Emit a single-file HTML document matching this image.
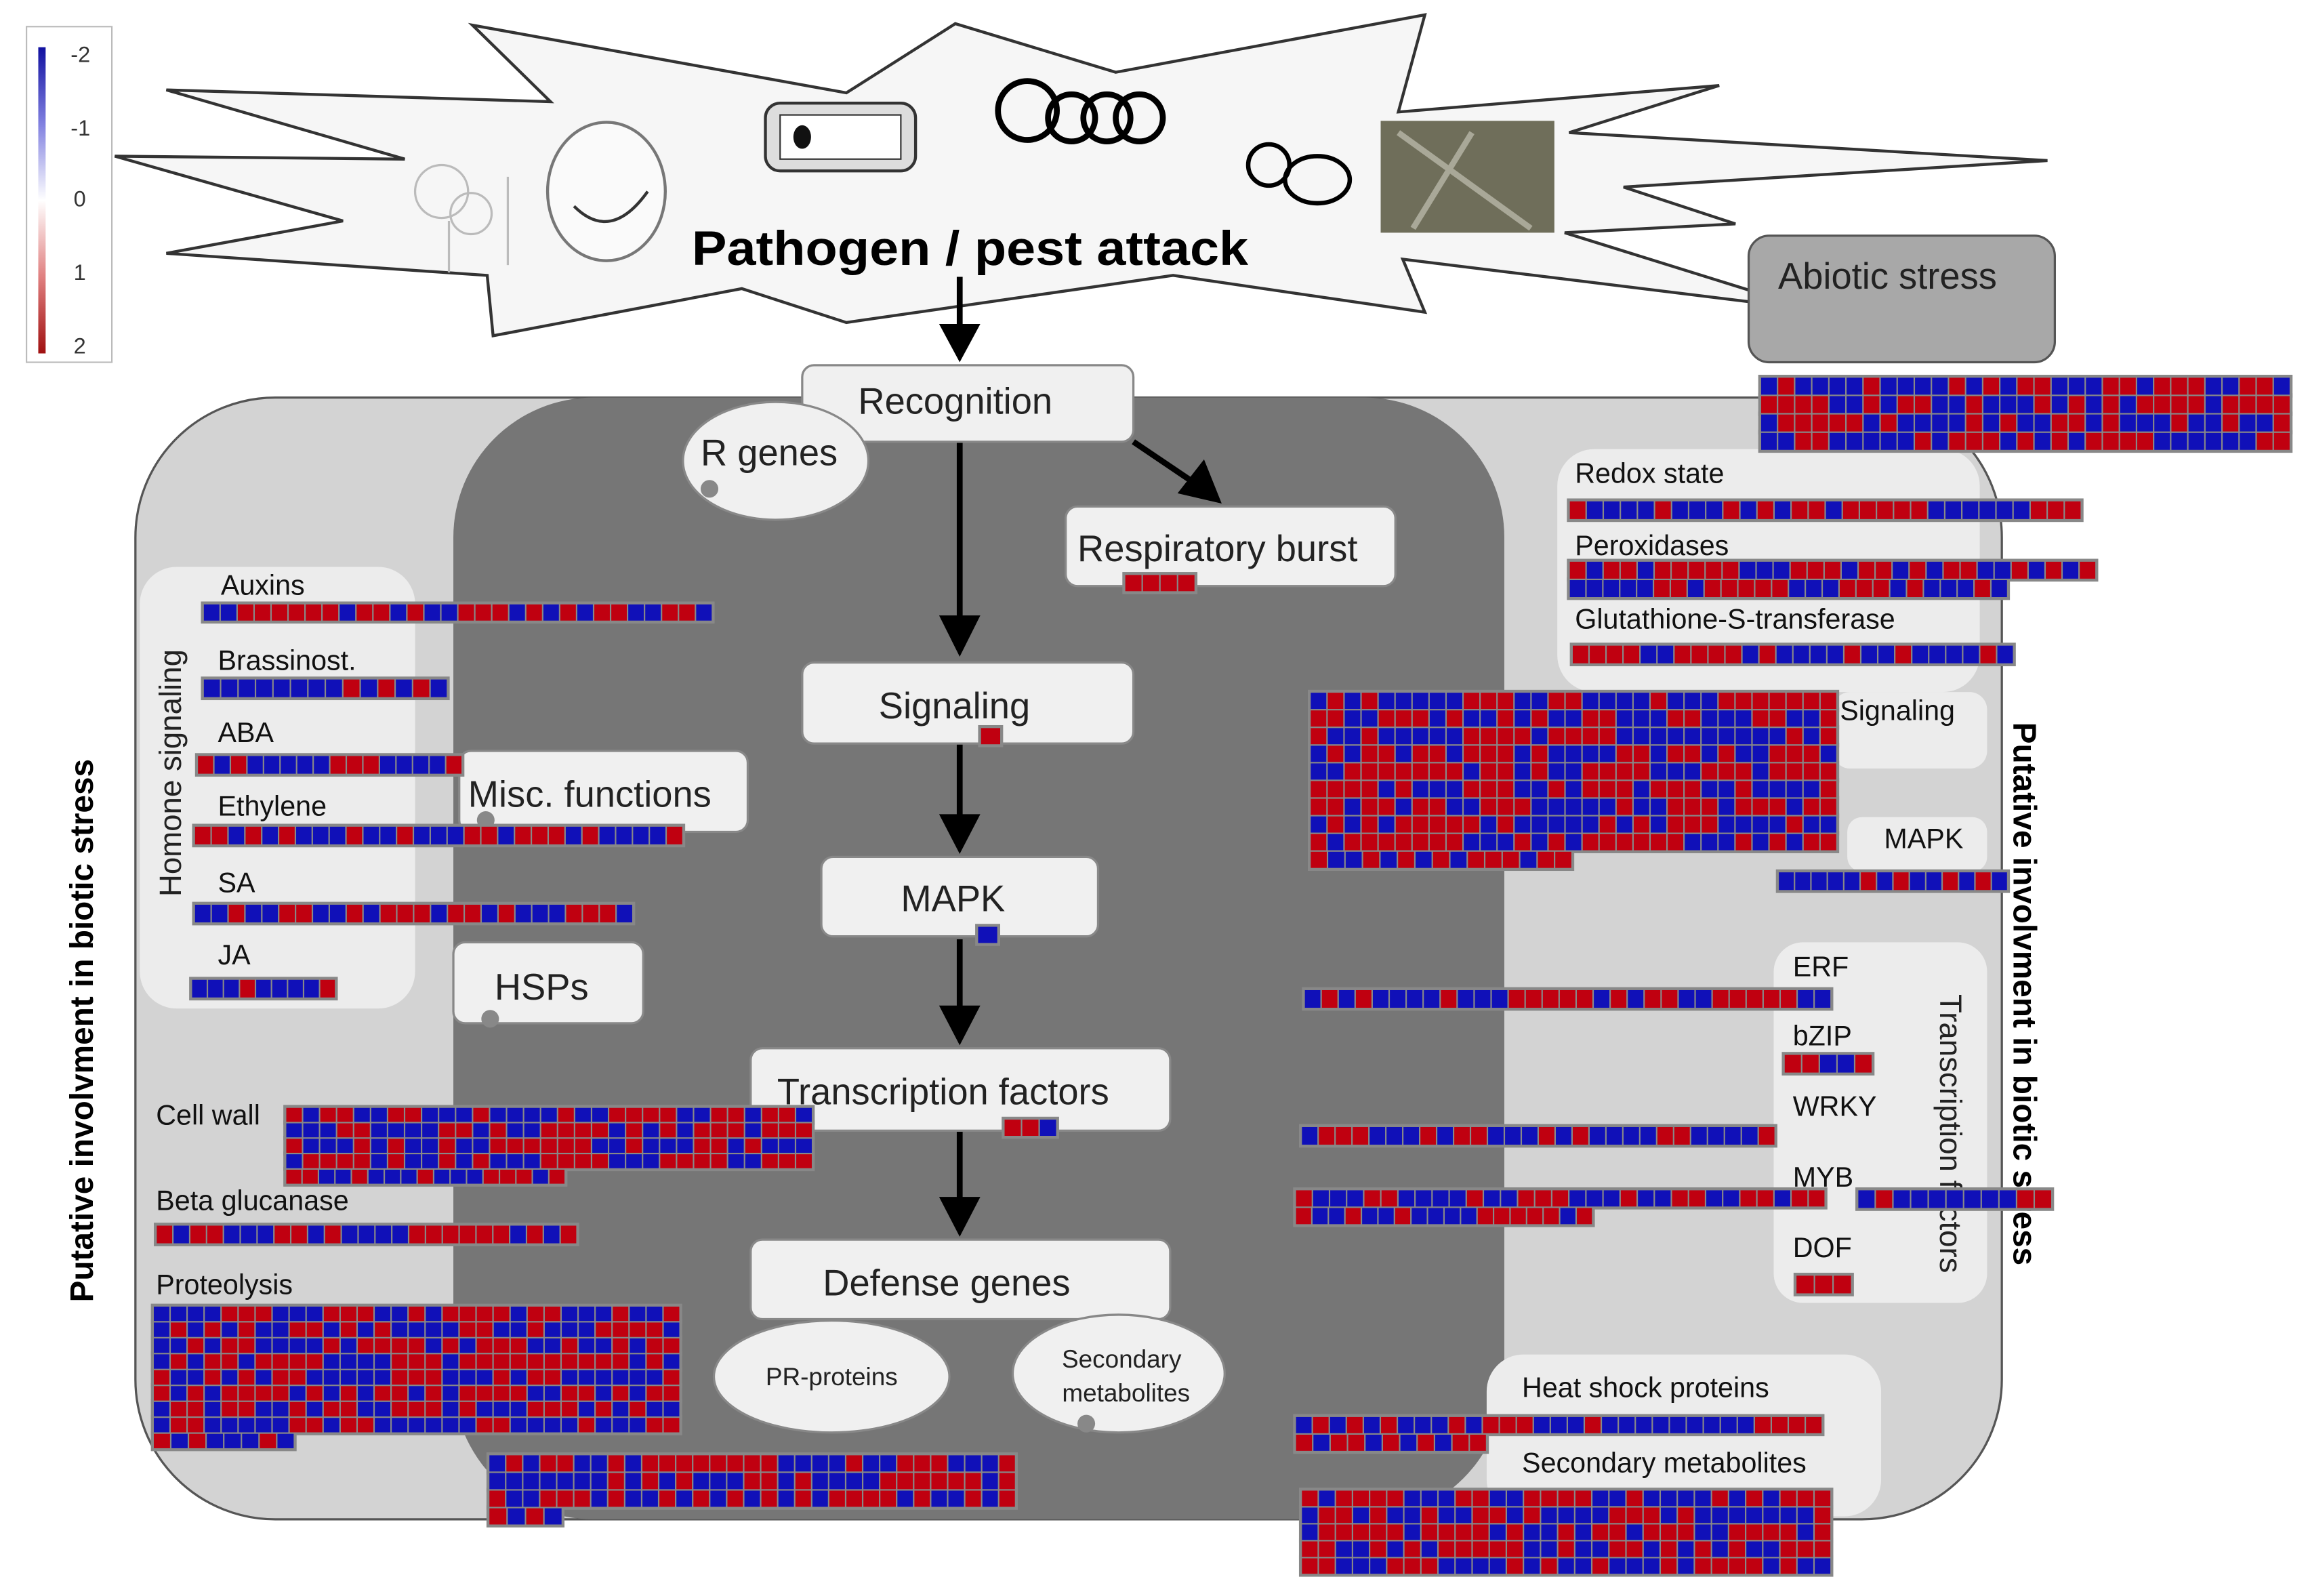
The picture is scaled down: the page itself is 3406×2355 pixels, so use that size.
<!DOCTYPE html>
<html><head><meta charset="utf-8">
<style>
html,body{margin:0;padding:0;background:#fff;}
svg{display:block;}
text{font-family:"Liberation Sans",sans-serif;}
</style></head>
<body>
<svg id="s" width="3406" height="2355" viewBox="0 0 1568 1084" xmlns="http://www.w3.org/2000/svg">
<defs>
<linearGradient id="lg" x1="0" y1="0" x2="0" y2="1">
<stop offset="0" stop-color="#1010a0"/><stop offset="0.25" stop-color="#8080e0"/><stop offset="0.5" stop-color="#ffffff"/><stop offset="0.75" stop-color="#e08080"/><stop offset="1" stop-color="#a01010"/>
</linearGradient>
</defs>
<!-- legend -->
<rect x="18" y="18" width="58" height="228" fill="#fff" stroke="#bbb"/>
<rect x="26" y="32" width="5" height="208" fill="url(#lg)"/>
<g font-size="15" fill="#333">
<text x="48" y="42">-2</text><text x="48" y="92">-1</text><text x="50" y="140">0</text><text x="50" y="190">1</text><text x="50" y="240">2</text>
</g>
<!-- starburst -->
<polygon points="113,61 374,69 321,17 575,63 649,16 758,49 968,10 950,76 1168,58 1066,90 1391,109 1103,127 1179,152 1063,158 1230,210 953,176 968,212 797,187 575,219 504,196 335,228 331,187 113,172 233,150 78,106 275,108" fill="#f6f6f6" stroke="#333" stroke-width="2"/>
<!-- pictures -->
<g stroke="#bbb" fill="none" stroke-width="1.5"><circle cx="300" cy="130" r="18"/><circle cx="320" cy="145" r="14"/><line x1="305" y1="150" x2="305" y2="185"/><line x1="345" y1="120" x2="345" y2="180"/></g>
<ellipse cx="412" cy="130" rx="40" ry="47" fill="#fafafa" stroke="#777" stroke-width="2"/>
<path d="M390 140 Q415 165 440 130" fill="none" stroke="#333" stroke-width="2"/>
<rect x="520" y="70" width="102" height="46" rx="10" fill="#ddd" stroke="#333" stroke-width="2"/>
<rect x="530" y="78" width="82" height="30" fill="#fff" stroke="#333"/>
<ellipse cx="545" cy="93" rx="6" ry="8" fill="#111"/>
<g fill="none" stroke="#000" stroke-width="4"><circle cx="698" cy="75" r="20"/><circle cx="728" cy="80" r="16"/><circle cx="752" cy="80" r="16"/><circle cx="774" cy="80" r="16"/></g>
<g fill="none" stroke="#000" stroke-width="3"><circle cx="862" cy="112" r="14"/><ellipse cx="895" cy="122" rx="22" ry="16"/></g>
<rect x="938" y="82" width="118" height="76" fill="#6f6e5a"/>
<g stroke="#a9a898" stroke-width="4"><line x1="950" y1="90" x2="1040" y2="155"/><line x1="1000" y1="90" x2="960" y2="155"/></g>
<text x="470" y="180" font-size="33" font-weight="bold" fill="#000" textLength="378" lengthAdjust="spacingAndGlyphs">Pathogen / pest attack</text>
<!-- abiotic -->
<rect x="1188" y="160" width="208" height="86" rx="14" fill="#a8a8a8" stroke="#555" stroke-width="1.5"/>
<text x="1208" y="196" font-size="25" fill="#222">Abiotic stress</text>
<!-- cell -->
<rect x="92" y="270" width="1268" height="762" rx="95" fill="#d3d3d3" stroke="#555" stroke-width="1.5"/>
<rect x="308" y="270" width="714" height="762" rx="95" fill="#767676"/>
<!-- light panels -->
<g fill="#ececec">
<rect x="95" y="385" width="187" height="300" rx="25"/>
<rect x="1058" y="305" width="287" height="165" rx="25"/>
<rect x="1245" y="470" width="105" height="52" rx="12"/>
<rect x="1255" y="555" width="95" height="37" rx="10"/>
<rect x="1205" y="640" width="145" height="245" rx="20"/>
<rect x="1010" y="920" width="268" height="110" rx="25"/>
</g>
<!-- vertical texts -->
<text transform="translate(63,700) rotate(-90)" font-size="22" font-weight="bold" text-anchor="middle" fill="#000">Putative involvment in biotic stress</text>
<text transform="translate(1368,675) rotate(90)" font-size="22" font-weight="bold" text-anchor="middle" fill="#000">Putative involvment in biotic stress</text>
<text transform="translate(123,525) rotate(-90)" font-size="21" text-anchor="middle" fill="#222">Homone signaling</text>
<text transform="translate(1318,770) rotate(90)" font-size="21" text-anchor="middle" fill="#222">Transcription factors</text>
<!-- arrows -->
<g stroke="#000" stroke-width="4">
<line x1="652" y1="188" x2="652" y2="222"/><line x1="652" y1="300" x2="652" y2="420"/><line x1="652" y1="505" x2="652" y2="555"/><line x1="652" y1="638" x2="652" y2="685"/><line x1="652" y1="768" x2="652" y2="815"/><line x1="770" y1="300" x2="810" y2="327"/>
</g>
<g fill="#000">
<polygon points="638,220 666,220 652,246"/><polygon points="638,418 666,418 652,446"/><polygon points="638,553 666,553 652,580"/><polygon points="638,683 666,683 652,710"/><polygon points="638,813 666,813 652,840"/><polygon points="800,335 818,312 830,342"/>
</g>
<!-- boxes -->
<g fill="#f0f0f0" stroke="#888" stroke-width="1.5">
<rect x="545" y="248" width="225" height="52" rx="8"/>
<rect x="724" y="344" width="224" height="54" rx="8"/>
<rect x="545" y="450" width="225" height="55" rx="8"/>
<rect x="558" y="582" width="188" height="54" rx="8"/>
<rect x="510" y="712" width="285" height="56" rx="8"/>
<rect x="510" y="842" width="285" height="54" rx="8"/>
<rect x="312" y="510" width="196" height="55" rx="8"/>
<rect x="308" y="640" width="129" height="55" rx="8"/>
<ellipse cx="527" cy="313" rx="63" ry="40"/>
<ellipse cx="565" cy="935" rx="80" ry="38"/>
<ellipse cx="760" cy="933" rx="72" ry="40"/>
</g>
<g fill="#888"><circle cx="482" cy="332" r="6"/><circle cx="330" cy="557" r="6"/><circle cx="333" cy="692" r="6"/><circle cx="738" cy="967" r="6"/></g>
<g fill="#222" font-size="25">
<text x="583" y="281">Recognition</text>
<text x="476" y="316">R genes</text>
<text x="732" y="381">Respiratory burst</text>
<text x="597" y="488">Signaling</text>
<text x="612" y="619">MAPK</text>
<text x="528" y="750">Transcription factors</text>
<text x="559" y="880">Defense genes</text>
<text x="318" y="548">Misc. functions</text>
<text x="336" y="679">HSPs</text>
</g>
<g fill="#222" font-size="17" text-anchor="middle">
<text x="565" y="941">PR-proteins</text>
<text x="762" y="929">Secondary</text><text x="765" y="952">metabolites</text>
</g>
<g id="hm"></g>
<g fill="#111" font-size="19">
<text x="150" y="404">Auxins</text><text x="148" y="455">Brassinost.</text><text x="148" y="504">ABA</text><text x="148" y="554">Ethylene</text><text x="148" y="606">SA</text><text x="148" y="655">JA</text>
<text x="106" y="764">Cell wall</text><text x="106" y="822">Beta glucanase</text><text x="106" y="879">Proteolysis</text>
<text x="1070" y="328">Redox state</text><text x="1070" y="377">Peroxidases</text><text x="1070" y="427">Glutathione-S-transferase</text>
<text x="1250" y="489">Signaling</text><text x="1280" y="576">MAPK</text>
<text x="1218" y="663">ERF</text><text x="1218" y="710">bZIP</text><text x="1218" y="758">WRKY</text><text x="1218" y="806">MYB</text><text x="1218" y="854">DOF</text>
<text x="1034" y="949">Heat shock proteins</text><text x="1034" y="1000">Secondary metabolites</text>
</g>
</svg>
<script>
(function(){
var g=document.getElementById('hm');var ns='http://www.w3.org/2000/svg';
var seed=12345;function r(){seed=(seed*1103515245+12345)%2147483648;return seed/2147483648;}
var H=[
[1196,256,360,4,360,12.5],[1066,340,348,1,348,13],[1066,381,358,2,298,12.5],[1068,438,300,1,300,13],
[890,470,358,10,178,12],[1208,592,156,1,156,13],[886,672,358,1,358,13],[1212,716,60,1,60,13],
[884,765,322,1,322,13],[880,808,360,2,202,12],[1262,808,132,1,132,13],[1220,866,38,1,38,13],
[880,962,358,2,130,12],[884,1012,360,5,360,11.5],
[138,410,346,1,346,12],[138,461,166,1,166,13],[134,513,180,1,180,13],[132,561,332,1,332,13],[132,614,298,1,298,13],[130,665,98,1,98,13],
[194,752,358,5,190,10.5],[106,832,286,1,286,13],[104,887,358,9,96,10.8],[332,988,358,4,50,12],
[764,390,48,1,48,12],[666,494,14,1,14,12],[664,629,14,1,14,12],[682,760,36,1,36,12]
];
H.forEach(function(h){
 var x=h[0],y=h[1],w=h[2],n=h[3],lw=h[4],rh=h[5];
 for(var i=0;i<n;i++){
  var ww=(i==n-1)?lw:w;
  var bg=document.createElementNS(ns,'rect');
  bg.setAttribute('x',x-1.5);bg.setAttribute('y',y+i*rh-1.5);bg.setAttribute('width',ww+3);bg.setAttribute('height',rh+3);bg.setAttribute('fill','#888');g.appendChild(bg);
 }
 for(var i=0;i<n;i++){
  var ww=(i==n-1)?lw:w;var c=Math.max(1,Math.round(ww/11.5));var cw=ww/c;
  for(var j=0;j<c;j++){
   var e=document.createElementNS(ns,'rect');
   e.setAttribute('x',x+j*cw+0.5);e.setAttribute('y',y+i*rh+0.5);e.setAttribute('width',cw-1);e.setAttribute('height',rh-1);
   e.setAttribute('fill',r()<0.5?'#c00010':'#1010b8');g.appendChild(e);
  }
 }
});
})();
</script>
</body></html>
